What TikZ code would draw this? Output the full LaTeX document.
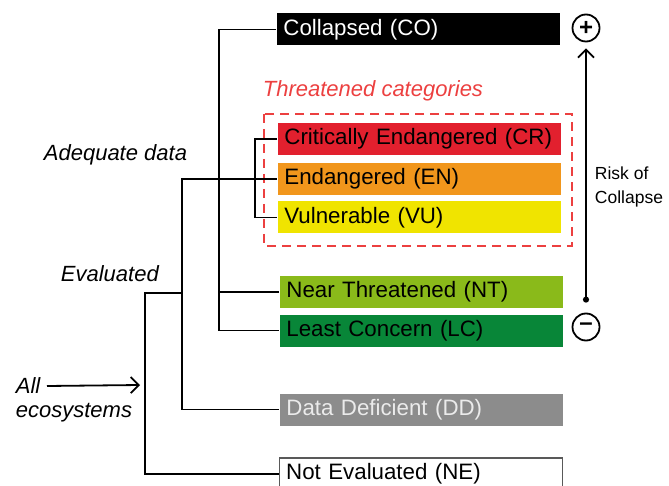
\documentclass[tikz,border=0pt]{standalone}
\usepackage{fontspec}
\setmainfont{Liberation Sans}
\usetikzlibrary{arrows.meta}

\definecolor{coblack}{RGB}{0,0,0}
\definecolor{crred}{RGB}{226,32,46}
\definecolor{enorange}{RGB}{241,150,28}
\definecolor{vuyellow}{RGB}{240,228,0}
\definecolor{ntgreen}{RGB}{138,186,26}
\definecolor{lcgreen}{RGB}{8,134,56}
\definecolor{ddgray}{RGB}{140,140,140}
\definecolor{threatred}{RGB}{236,64,64}

\tikzset{
	catbox/.style={rectangle, anchor=west, minimum height=32pt, text width=270pt,
		inner xsep=6.5pt, inner ysep=0pt, align=left, font=\fontsize{22.3}{24}\selectfont},
	lbl/.style={anchor=west, inner sep=0pt, font=\fontsize{22}{24}\selectfont\itshape},
	sign/.style={circle, draw, line width=1.8, minimum size=27pt, inner sep=0pt,
		font=\fontsize{24}{24}\selectfont\bfseries},
	barb/.style={-{Straight Barb[length=8pt, width=16pt, line width=1.8pt]}},
}

\begin{document}
\begin{tikzpicture}[x=1pt, y=-1pt, line width=1.8]

	\useasboundingbox (0,0) rectangle (669,486);

	% categories
	\node[catbox, fill=coblack, text=white] (CO) at (276, 29.5) {Collapsed (CO)};
	\node[catbox, fill=crred]    (CR) at (277, 139) {Critically Endangered (CR)};
	\node[catbox, fill=enorange] (EN) at (277, 179) {Endangered (EN)};
	\node[catbox, fill=vuyellow] (VU) at (277, 217.5) {Vulnerable (VU)};
	\node[catbox, fill=ntgreen]  (NT) at (279, 292) {Near Threatened (NT)};
	\node[catbox, fill=lcgreen]  (LC) at (279, 330.5) {Least Concern (LC)};
	\node[catbox, fill=ddgray, text=black!8] (DD) at (279, 409.5) {Data Deficient (DD)};
	\node[catbox, fill=white, draw=black!65, line width=1.4] (NE) at (279, 474) {Not Evaluated (NE)};

	\draw[threatred, line width=2.2, dash pattern=on 9pt off 6pt] (264,114) rectangle (572,246);
	\node[lbl, text=threatred] (threat) at (262, 91) {Threatened categories};

	% labels
	\node[lbl] (adequate) at (43, 155) {Adequate data};
	\node[lbl] (evaluated) at (60, 274) {Evaluated};
	\node[lbl] (all) at (15, 386) {All};
	\node[lbl] (eco) at (15, 413) {ecosystems};

	% tree
	\coordinate (jall) at (145, 293);
	\coordinate (jeval) at (182, 179);
	\coordinate (jadeq) at (219, 29.5);
	\coordinate (jthreat) at (255, 139);
	\coordinate (allend) at (140, 385);

	\draw (NE.west) -| (jall) -- (jall -| jeval);
	\draw (DD.west) -| (jeval) -- (EN.west);
	\draw (CO.west) -| (jadeq |- LC.west) -- (LC.west);
	\draw (NT.west) -- (NT.west -| jadeq);
	\draw (CR.west) -| (jthreat |- VU.west) -- (VU.west);
	\draw[barb] (all.east -| 47,0) -- (allend);

	% risk of collapse
	\node[sign] (plus) at (586, 28) {+};
	\node[sign] (minus) at (586, 327) {--};
	\draw[{Circle[length=6pt]}-{Straight Barb[length=8pt, width=16pt, line width=1.8pt]},
		shorten <=10pt, shorten >=6pt] (minus.north) -- (plus.south);
	\node[anchor=west, align=left, inner sep=0pt, font=\fontsize{17.5}{24}\selectfont]
		(risk) at (594, 187) {Risk of\\Collapse};

\end{tikzpicture}
\end{document}
